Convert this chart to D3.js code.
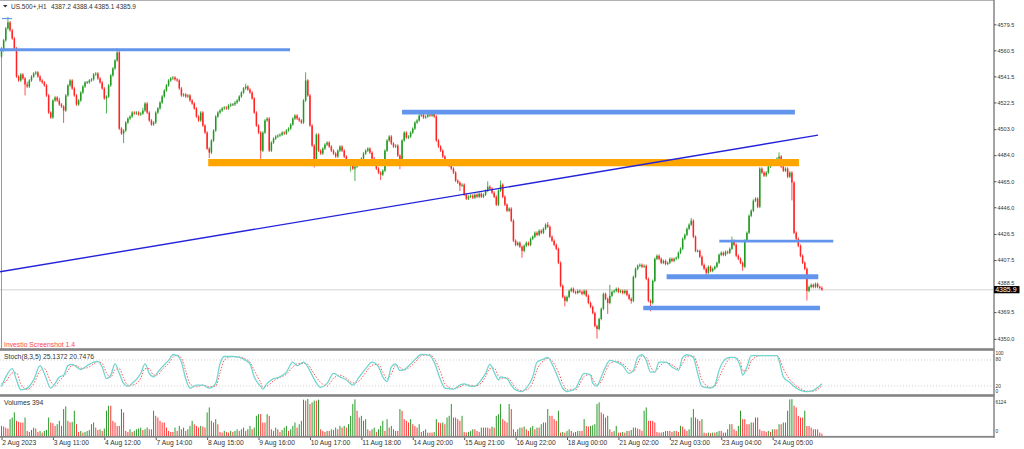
<!DOCTYPE html>
<html>
<head>
<meta charset="utf-8">
<script src="https://cdn.jsdelivr.net/npm/d3@7"></script>
<style>
  body { margin: 0; background: #fff; }
  svg { display: block; }
  text { font-family: "Liberation Sans", Arial, sans-serif; }
</style>
</head>
<body>
<svg id="chart" width="1024" height="449"></svg>
<script>
// ---- data ----
const symbol = "US.500+,H1";
const lastOHLC = [4387.2, 4388.4, 4385.1, 4385.9];
const firstOpen = 4556.0;

// H1 closes, one per bar (384 bars)
const closes = [
  4560.5,4567.8,4576.5,4580.9,4575.1,4569.2,4561.9,4541.4,4538.5,4542.9,
  4540.0,4535.6,4534.1,4538.5,4541.4,4543.6,4544.4,4541.4,4538.5,4537.1,
  4534.9,4527.6,4515.1,4511.5,4523.9,4526.1,4523.9,4521.0,4519.5,4516.6,
  4527.6,4534.9,4538.5,4532.7,4527.6,4521.0,4523.9,4529.7,4534.1,4537.1,
  4537.1,4538.5,4539.3,4542.9,4543.6,4540.0,4537.1,4532.7,4525.4,4526.8,
  4534.9,4542.2,4547.3,4553.1,4559.0,4503.4,4499.8,4502.0,4507.8,4510.7,
  4512.2,4515.1,4514.4,4515.1,4513.7,4514.4,4516.6,4521.7,4515.1,4509.3,
  4506.4,4507.8,4515.1,4518.1,4522.4,4526.8,4531.2,4534.9,4538.5,4540.0,
  4540.7,4539.3,4538.5,4532.7,4527.6,4528.3,4526.8,4527.6,4523.9,4521.7,
  4518.1,4512.2,4509.3,4515.1,4505.6,4500.5,4488.8,4485.9,4494.7,4502.0,
  4512.2,4515.1,4516.6,4518.1,4518.8,4518.1,4520.2,4521.0,4521.0,4522.4,
  4523.9,4526.8,4529.7,4532.7,4534.1,4531.9,4529.7,4525.4,4515.1,4505.6,
  4500.5,4487.3,4500.5,4509.3,4510.7,4487.3,4493.2,4496.1,4497.6,4498.3,
  4499.0,4500.5,4499.8,4502.0,4503.4,4506.4,4510.7,4512.9,4510.7,4509.3,
  4507.8,4523.9,4538.5,4527.6,4505.6,4491.0,4480.0,4499.0,4487.3,4485.2,
  4488.8,4491.7,4493.2,4490.3,4487.3,4485.2,4483.0,4487.3,4490.3,4487.3,
  4483.0,4480.0,4477.1,4478.6,4474.2,4475.7,4480.0,4477.1,4481.5,4485.2,
  4487.3,4488.8,4485.9,4481.5,4477.8,4474.2,4471.3,4469.8,4472.7,4487.3,
  4494.7,4497.6,4492.5,4490.3,4491.0,4483.7,4477.8,4494.7,4500.5,4496.9,
  4497.6,4500.5,4503.4,4507.8,4509.3,4512.9,4513.7,4511.5,4512.2,4513.7,
  4512.9,4514.4,4512.2,4494.7,4490.3,4487.3,4483.0,4478.6,4480.0,4476.4,
  4474.2,4471.3,4465.4,4464.0,4461.8,4462.5,4455.2,4452.3,4453.7,4454.5,
  4453.0,4455.2,4453.7,4455.9,4453.7,4455.2,4458.1,4461.0,4459.6,4456.6,
  4453.7,4447.9,4458.1,4462.5,4453.7,4447.9,4443.5,4445.0,4436.2,4421.6,
  4418.6,4420.1,4417.2,4414.2,4417.9,4420.1,4418.6,4423.0,4424.5,4427.4,
  4425.9,4428.9,4427.4,4430.3,4433.3,4431.8,4424.5,4421.6,4418.6,4415.7,
  4405.5,4388.7,4380.6,4377.7,4380.6,4385.0,4386.5,4384.3,4383.5,4385.0,
  4384.3,4382.8,4385.0,4381.4,4376.2,4373.3,4368.9,4359.4,4357.2,4364.5,
  4371.9,4382.8,4379.2,4376.2,4381.4,4384.3,4385.0,4386.5,4384.3,4385.0,
  4383.5,4385.0,4382.1,4379.2,4377.7,4395.2,4401.1,4403.3,4404.0,4402.6,
  4403.3,4393.8,4377.7,4376.2,4392.3,4408.4,4410.6,4408.4,4405.5,4406.9,
  4404.7,4405.5,4408.4,4406.9,4408.4,4409.1,4412.8,4415.7,4423.0,4425.9,
  4430.3,4433.3,4436.2,4424.5,4414.2,4414.2,4409.9,4404.0,4401.1,4398.2,
  4402.6,4399.6,4401.1,4402.6,4405.5,4411.3,4412.8,4411.3,4413.5,4412.8,
  4415.7,4421.6,4418.6,4410.6,4408.4,4405.5,4402.6,4421.6,4427.4,4439.8,
  4443.5,4450.8,4452.3,4446.4,4474.2,4471.3,4469.1,4471.3,4475.7,4477.1,
  4478.6,4480.0,4481.5,4483.0,4475.7,4472.7,4474.2,4468.3,4471.3,4464.0,
  4427.4,4423.0,4417.9,4410.6,4405.5,4401.1,4385.0,4387.9,4389.4,4387.9,
  4390.1,4387.9,4387.2,4385.9
];

// wick lengths above / below the body (price points)
const upperWicks = [
  1,1,1,4,1,1,1,1,1,1, 1,1,2,1,1,1,1,1,1,1, 1,1,1,1,1,1,1,2,1,1, 1,1,1,1,1,1,1,1,1,1,
  1,1,1,1,1,1,1,1,1,1, 1,1,1,1,3,1,1,1,1,1, 1,1,1,1,1,1,2,1,1,1, 1,1,1,1,1,1,1,1,1,1,
  1,1,1,1,1,1,1,1,1,1, 1,1,1,1,1,1,1,1,1,1, 1,1,1,1,1,1,1,1,1,1, 1,1,1,1,2,1,1,1,1,1,
  1,1,1,1,1,1,1,1,1,1, 1,1,1,1,1,1,1,1,1,1, 1,1,6,1,1,1,1,1,1,1, 1,1,1,1,1,1,1,1,1,1,
  1,1,1,1,1,1,1,1,1,1, 1,1,1,1,1,1,1,1,1,1, 1,1,1,1,1,1,1,1,1,1, 1,1,1,1,1,1,1,1,1,1,
  1,2,1,1,1,1,1,1,1,1, 1,1,1,1,1,1,1,1,1,1, 1,1,1,1,1,1,1,4,1,1, 1,1,1,3,1,1,1,1,1,1,
  1,1,1,1,1,1,1,1,1,1, 1,1,1,1,1,2,1,1,1,1, 1,1,1,1,1,1,1,1,1,1, 1,1,1,1,1,1,1,1,1,1,
  1,1,1,1,8,1,1,1,1,1, 1,1,1,1,1,1,1,1,1,1, 1,1,1,1,1,1,1,1,1,1, 1,1,1,1,1,1,1,1,1,1,
  1,1,2,1,1,1,1,1,1,1, 1,1,1,1,1,1,1,1,1,1, 1,3,1,1,1,1,1,1,1,1, 1,1,1,1,1,1,1,1,1,1,
  1,1,1,3,1,1,1,1,1,1, 1,1,1,1,1,1,1,1,1,1, 1,1,1,1.2
];
const lowerWicks = [
  1,1,1,1,1,1,1,1,1,1, 1,8,1,1,1,1,1,1,1,1, 1,1,1,1,1,1,1,1,1,9, 1,1,1,1,1,1,1,1,1,1,
  1,1,1,1,1,1,1,1,1,11, 1,1,1,1,1,1,1,7,1,1, 1,1,1,1,1,1,1,1,1,1, 1,1,1,1,1,1,1,1,1,1,
  1,1,1,1,1,1,1,1,1,1, 1,1,1,1,1,1,1,4,1,1, 1,1,1,1,1,1,1,1,1,1, 1,1,1,1,1,1,1,1,1,1,
  1,6,1,1,1,1,1,1,1,1, 1,1,1,1,1,1,1,1,1,1, 1,1,1,1,1,1,5,1,1,1, 1,1,1,1,1,1,1,1,1,1,
  1,1,1,5,1,9,1,1,1,1, 1,1,1,1,1,1,1,4,1,1, 1,1,1,1,1,1,4,1,1,1, 1,1,1,1,1,1,1,1,1,1,
  1,1,1,1,1,1,1,1,1,1, 1,1,1,1,4,1,1,1,1,1, 1,1,1,1,1,1,1,1,1,1, 1,1,1,1,1,1,1,1,1,1,
  1,1,1,5,1,1,1,1,1,1, 1,1,1,1,1,1,1,1,1,1, 1,1,1,4,1,1,1,1,1,1, 1,1,1,1,1,1,1,1,7,1,
  1,1,1,8,1,1,1,1,1,1, 1,1,1,1,2,1,1,1,1,1, 1,1,1,6,1,1,1,1,1,1, 1,1,1,1,1,1,1,1,1,1,
  1,1,1,1,1,1,1,1,1,3, 1,1,1,1,1,1,1,1,1,1, 1,1,1,1,1,1,3,1,1,1, 1,1,1,1,1,1,1,1,1,1,
  1,1,1,1,1,1,1,1,1,13, 1,1,1,1,1,1,7,1,1,1, 1,1,1,0.8
];

// tick volumes, one per bar
const volumes = [
  1670,1560,1390,1230,2790,3060,3900,2510,2340,2230, 2230,3060,840,670,1000,1390,1230,670,840,560,
  840,1000,3060,2230,2120,1670,1950,2510,1670,4460, 4900,2510,2230,2340,4180,1950,670,840,560,670,
  840,1000,1950,2230,1390,1000,1110,840,1230,4180, 5010,5010,2510,2230,1670,1670,4460,3900,840,670,
  1110,670,840,1110,1230,1390,1000,1110,1390,1110, 1110,4180,3340,3060,2510,2230,2230,1390,840,670,
  670,1390,840,1670,1110,1390,840,1110,1670,2510, 1950,1670,1390,1670,1560,1390,3900,4730,2510,2230,
  2790,1950,670,560,840,670,560,840,670,840, 1110,840,1110,1390,840,1110,1670,1110,1390,3340,
  3620,3620,2230,2230,3620,3340,1110,840,1390,1110, 670,1000,1390,1670,840,1110,1670,2230,1390,1950,
  2510,6010,5850,6124,5290,5570,5850,5850,6020,1110, 840,670,840,840,1110,1000,1390,1110,1670,1390,
  1670,1390,1950,3340,5290,6060,4180,3060,3340,2510, 2790,1110,840,1110,1390,670,1110,1670,2510,840,
  2790,1390,1670,1110,840,840,4460,4180,2790,2510, 2230,2790,1950,1670,1390,1950,670,840,1110,560,
  560,560,670,2790,2230,2120,2230,1950,3060,3340, 5290,3060,3060,2790,2510,3340,670,560,670,840,
  1110,1110,840,670,1390,1390,1390,1390,1230,1560, 1390,3340,3620,5290,2790,2510,2230,5290,4460,1110,
  670,1110,1390,1390,1560,1110,840,1390,1670,1110, 1390,1390,1950,2230,2230,4460,3340,3340,2790,2510,
  4180,560,670,560,840,1110,840,560,670,840, 840,840,2790,1670,1560,1670,1780,1950,5290,5570,
  3900,3620,3060,3340,1110,670,840,1670,560,560, 670,560,840,840,1000,1390,1390,1230,1110,840,
  4180,4730,2510,2510,2510,2230,670,560,560,670, 840,840,840,670,840,840,670,1670,1560,1110,
  840,1110,3060,4460,3060,2790,2510,2790,560,450, 560,450,560,560,670,840,840,560,560,1110,
  1950,1950,1110,840,1670,4180,2790,2790,1950,1950, 2230,2230,3060,3060,1110,840,840,670,840,670,
  1110,1110,1110,1950,1950,2230,2230,4180,6050,6100, 5010,4730,3340,3060,3060,4180,1670,1670,1390,1110,
  1110,1110,560,394
];

// Stochastic (8,3,5) main and signal lines, read at these bars
const stochBars = [0,2,5,7,9,12,15,18,20,23,25,27,29,31,33,35,37,40,43,45,47,49,51,53,55,57,59,61,65,67,69,71,73,75,78,80,82,84,86,88,91,94,97,100,102,104,108,111,114,116,118,121,122,124,127,130,133,136,138,141,143,145,149,152,155,158,161,164,167,170,173,176,178,180,182,184,186,188,191,194,196,200,202,205,207,211,214,216,219,221,224,226,228,230,232,233,236,238,240,243,245,248,250,253,255,257,260,262,264,268,270,272,275,276,278,280,282,284,287,290,293,295,297,299,301,303,305,307,310,313,316,318,320,323,325,327,331,333,335,338,340,342,345,346,348,350,354,358,362,363,365,368,370,373,376,379,383];
const stochK = [19,41,60,34,11,15,34,67,49,15,26,41,45,67,70,64,58,67,75,77,64,37,45,71,49,26,19,26,49,71,49,41,52,64,79,92,90,75,37,15,22,22,15,26,71,88,88,86,79,71,41,19,13,26,37,41,52,75,67,75,64,45,17,26,49,41,34,22,41,60,75,64,41,30,64,71,56,58,71,86,93,90,75,34,15,13,22,25,19,20,34,49,70,52,34,41,37,22,11,7,15,41,75,82,86,71,37,15,7,15,34,49,45,26,20,41,64,79,75,67,49,56,86,92,79,52,52,75,75,64,56,86,92,86,49,19,15,22,56,82,86,86,64,45,64,90,90,90,90,79,41,28,19,10,7,10,25.1];
const stochD = [25,30,50,50,25,12,25,55,60,30,20,32,42,55,68,67,61,62,71,76,72,50,40,58,60,38,22,22,38,60,60,45,46,58,72,86,91,84,55,25,18,22,18,20,50,80,88,87,82,75,56,28,18,20,32,40,47,64,71,72,70,55,28,20,38,45,38,27,32,51,68,70,52,36,48,68,63,57,65,80,90,92,83,52,25,14,18,23,22,20,27,42,60,61,43,38,39,30,16,9,11,28,58,78,84,78,52,26,11,11,25,42,47,36,23,30,53,72,77,71,57,53,72,89,86,65,52,64,75,69,60,72,89,89,67,34,17,19,40,70,84,86,75,55,55,78,90,90,90,85,60,35,24,14,8,8,20.7];
const stochLast = ["25.1372", "20.7476"];

// time axis: one label every 24 bars
const dayLabels = ["2 Aug 2023","3 Aug 11:00","4 Aug 12:00","7 Aug 14:00","8 Aug 15:00","9 Aug 16:00","10 Aug 17:00","11 Aug 18:00","14 Aug 20:00","15 Aug 21:00","16 Aug 22:00","18 Aug 00:00","21 Aug 02:00","22 Aug 03:00","23 Aug 04:00","24 Aug 05:00"];
const dayLabelBars = [0,24,48,72,96,120,144,168,192,216,240,264,288,312,336,360];
const priceTicks = [4579.5,4560.5,4541.5,4522.5,4503.0,4484.0,4465.0,4446.0,4426.5,4407.5,4388.5,4369.5,4350.0];

// drawn levels: price, first bar, last bar
const levelPrices = [4583.7, 4561.0, 4515.4, 4478.6, 4421.3, 4395.4, 4372.5];
const levelFrom   = [0.2, -0.7, 187.0, 96.5, 335.1, 310.5, 299.6];
const levelTo     = [4.9, 134.7, 370.4, 372.3, 388.3, 381.3, 382.1];
const trendBars   = [-0.7, 381.2];
const trendPrices = [4398.9, 4498.6];

function drawChart() {
    const svg = d3.select("#chart");
    svg.selectAll("*").remove();

    // panel layout
    const plotRight = 994;
    const main = { top: 1, bottom: 349 };
    const stoch = { top: 351.3, bottom: 394.7 };
    const vol = { top: 399, bottom: 436 };
    const narrow = "'Liberation Sans Narrow', 'Liberation Sans', sans-serif";

    const xScale = d3.scaleLinear().domain([0, 383]).range([1.5, 821.9]);
    const yScale = d3.scaleLinear().domain([4342.6, 4596.5]).range([main.bottom, main.top]);
    const yStoch = d3.scaleLinear().domain([0, 100]).range([stoch.bottom, stoch.top]);
    const yVol = d3.scaleLinear().domain([0, 6124]).range([vol.bottom, vol.top]);

    const bull = "#1f9a1f", bear = "#ff2323";

    const candles = closes.map((c, i) => {
        const o = i ? closes[i - 1] : firstOpen;
        return { i, o, c, h: Math.max(o, c) + upperWicks[i], l: Math.min(o, c) - lowerWicks[i] };
    });
    const colorOf = d => d.c > d.o ? bull : (d.c < d.o ? bear : "#555");

    // current price guide line
    svg.append("line")
        .attr("x1", 0).attr("x2", plotRight)
        .attr("y1", yScale(lastOHLC[3])).attr("y2", yScale(lastOHLC[3]))
        .attr("stroke", "#e2e2e2").attr("stroke-width", 1.5);

    // left edge line
    svg.append("line")
        .attr("x1", 1.5).attr("x2", 1.5).attr("y1", 47).attr("y2", main.bottom)
        .attr("stroke", "#9a9a9a").attr("stroke-width", 1);

    // candles: wicks then bodies
    svg.append("g").selectAll("line")
        .data(candles).enter().append("line")
        .attr("x1", d => xScale(d.i)).attr("x2", d => xScale(d.i))
        .attr("y1", d => yScale(d.h)).attr("y2", d => yScale(d.l))
        .attr("stroke", colorOf).attr("stroke-width", 0.8);

    svg.append("g").selectAll("rect")
        .data(candles).enter().append("rect")
        .attr("x", d => xScale(d.i) - 0.75)
        .attr("width", 1.5)
        .attr("y", d => yScale(Math.max(d.o, d.c)))
        .attr("height", d => Math.max(0.8, Math.abs(yScale(d.o) - yScale(d.c))))
        .attr("fill", colorOf);

    // horizontal levels
    const levelStyles = [
        { color: "#6495ed", width: 1.2 },
        { color: "#6495ed", width: 3 },
        { color: "#6495ed", width: 4.6 },
        { color: "#ffa500", width: 7.4 },
        { color: "#6495ed", width: 2.6 },
        { color: "#6495ed", width: 5 },
        { color: "#6495ed", width: 4.4 }
    ];
    svg.append("g").selectAll("line")
        .data(levelPrices).enter().append("line")
        .attr("x1", (d, i) => xScale(levelFrom[i]))
        .attr("x2", (d, i) => xScale(levelTo[i]))
        .attr("y1", d => yScale(d)).attr("y2", d => yScale(d))
        .attr("stroke", (d, i) => levelStyles[i].color)
        .attr("stroke-width", (d, i) => levelStyles[i].width);

    // trend line
    svg.append("line")
        .attr("x1", xScale(trendBars[0])).attr("x2", xScale(trendBars[1]))
        .attr("y1", yScale(trendPrices[0])).attr("y2", yScale(trendPrices[1]))
        .attr("stroke", "#2323dc").attr("stroke-width", 1.4);

    // stochastic levels
    [80, 20].forEach(v => {
        svg.append("line")
            .attr("x1", 0).attr("x2", plotRight)
            .attr("y1", yStoch(v)).attr("y2", yStoch(v))
            .attr("stroke", "#c4c4c4").attr("stroke-width", 0.8)
            .attr("stroke-dasharray", "1,2");
    });

    const kPts = stochBars.map((b, i) => ({ b, v: stochK[i] }));
    const dPts = stochBars.map((b, i) => ({ b, v: stochD[i] }));
    const stochLine = d3.line()
        .x(d => xScale(d.b)).y(d => yStoch(d.v))
        .curve(d3.curveMonotoneX);

    svg.append("path").datum(dPts)
        .attr("d", stochLine).attr("fill", "none")
        .attr("stroke", "#ff5a5a").attr("stroke-width", 1)
        .attr("stroke-dasharray", "1.5,1.5");
    svg.append("path").datum(kPts)
        .attr("d", stochLine).attr("fill", "none")
        .attr("stroke", "#72d6d0").attr("stroke-width", 1.3);

    // volumes
    svg.append("g").selectAll("line")
        .data(volumes).enter().append("line")
        .attr("x1", (d, i) => xScale(i)).attr("x2", (d, i) => xScale(i))
        .attr("y1", yVol(0)).attr("y2", d => yVol(d))
        .attr("stroke", (d, i) => (i > 0 && d > volumes[i - 1]) ? "#2a9a2a" : "#ff3636")
        .attr("stroke-width", 1);

    // panel frames
    const frame = "#858585";
    [[348.2, 2.6], [394.2, 2.6], [435.9, 1.8]].forEach(([y, h]) => {
        svg.append("rect").attr("x", 0).attr("y", y).attr("width", plotRight + 0.5).attr("height", h).attr("fill", frame);
    });
    svg.append("line").attr("x1", 0).attr("x2", plotRight).attr("y1", 0.5).attr("y2", 0.5)
        .attr("stroke", "#b0b0b0").attr("stroke-width", 1);
    svg.append("line").attr("x1", plotRight).attr("x2", plotRight).attr("y1", 0).attr("y2", 437.7)
        .attr("stroke", frame).attr("stroke-width", 1.5);

    // price axis
    const yAxis = svg.append("g")
        .attr("transform", `translate(${plotRight},0)`)
        .call(d3.axisRight(yScale).tickValues(priceTicks).tickFormat(d3.format(".1f")).tickSize(2.5).tickPadding(1));
    yAxis.select(".domain").remove();
    yAxis.selectAll("line").attr("stroke", "#555");
    yAxis.selectAll("text")
        .attr("fill", "#333")
        .style("font-family", narrow)
        .style("font-size", "5.5px");
    // the tick hidden under the price tag sits a little higher, as in the original
    yAxis.selectAll("text").filter(d => d === 4388.5).attr("dy", "-0.35em");

    // current price tag
    const yNow = yScale(lastOHLC[3]);
    svg.append("rect").attr("x", plotRight).attr("y", yNow - 3.6).attr("width", 25.5).attr("height", 7.2).attr("fill", "#000");
    svg.append("text").attr("x", plotRight + 1.2).attr("y", yNow + 2.5)
        .attr("fill", "#fff").style("font-size", "7px")
        .text(lastOHLC[3].toFixed(1));

    // indicator scale labels
    const sideLabel = (txt, y) => svg.append("text")
        .attr("x", plotRight + 1.5).attr("y", y)
        .attr("fill", "#333").style("font-size", "4.8px")
        .style("font-family", narrow)
        .text(txt);
    sideLabel("100", yStoch(100) + 3.5);
    sideLabel("80", yStoch(80) + 0.6);
    sideLabel("20", yStoch(20) + 1.8);
    sideLabel("0", yStoch(0) - 1.3);
    sideLabel("6124", yVol(6124) + 4.5);
    sideLabel("0", yVol(0) - 2.6);

    // time axis
    const xAxis = svg.append("g")
        .attr("transform", "translate(0,437.5)")
        .call(d3.axisBottom(xScale).tickValues(dayLabelBars)
            .tickFormat((d, i) => dayLabels[i]).tickSize(2.5).tickPadding(0));
    xAxis.select(".domain").remove();
    xAxis.selectAll("line").attr("stroke", "#555");
    xAxis.selectAll("text")
        .attr("text-anchor", "start").attr("x", 0.3)
        .attr("fill", "#333").style("font-size", "6.7px");

    // header and panel captions
    svg.append("path").attr("d", "M3,5 L7.5,5 L5.25,7.6 Z").attr("fill", "#333");
    svg.append("text").attr("x", 11).attr("y", 9.3).attr("fill", "#333").style("font-size", "6.5px").text(symbol);
    svg.append("text").attr("x", 51).attr("y", 9.3).attr("fill", "#333").style("font-size", "6.5px")
        .text(lastOHLC.map(d => d.toFixed(1)).join(" "));

    svg.append("text").attr("x", 4).attr("y", 347).attr("fill", "#ff4848").style("font-size", "6.8px")
        .text("Investio Screenshot 1.4");
    svg.append("text").attr("x", 4).attr("y", 358.6).attr("fill", "#333").style("font-size", "6.8px")
        .text(`Stoch(8,3,5) ${stochLast[0]} ${stochLast[1]}`);
    svg.append("text").attr("x", 4).attr("y", 404.5).attr("fill", "#333").style("font-size", "6.8px")
        .text(`Volumes ${volumes[volumes.length - 1]}`);
}

drawChart();
</script>
</body>
</html>
